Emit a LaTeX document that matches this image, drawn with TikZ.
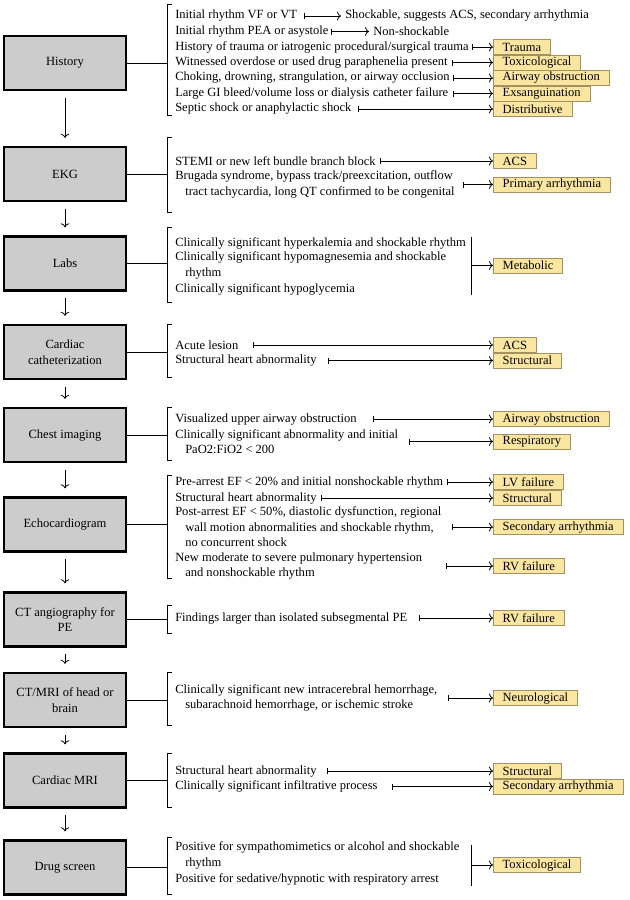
\documentclass[tikz,border=0pt]{standalone}
\usepackage{fontspec}
\setmainfont{Liberation Serif}
\usetikzlibrary{arrows.meta,positioning}
\definecolor{causefill}{RGB}{250,230,160}
\definecolor{causeline}{RGB}{165,145,95}
\newcommand{\subline}{\hspace*{7.5pt}}
\tikzset{
    test/.style={
           rectangle,
           draw=black, line width=1.8pt,
           fill=gray!40,
           minimum width=91.5pt, minimum height=40.5pt,
           align=center,
           font=\fontsize{9.4}{11.6}\selectfont,
           },
}
\tikzset{
    cause/.style={
           rectangle,
           draw=causeline, line width=0.5pt,
           fill=causefill,
           minimum height=11.4pt,
           inner xsep=7pt, inner ysep=0pt,
           anchor=west,
           font=\fontsize{9.4}{11.6}\selectfont,
           },
}
\tikzset{
    finding/.style={
           anchor=west,
           inner sep=0pt,
           align=left,
           font=\fontsize{9.4}{11.6}\selectfont,
           },
}
\tikzset{
    link/.style={line width=0.6pt},
    ruleto/.style={line width=0.6pt, {Bar[width=4.5pt]}-{To[length=3pt,width=6.5pt]}},
    pointto/.style={line width=0.6pt, -{To[length=3pt,width=6.5pt]}},
}

\begin{document}
\begin{tikzpicture}[x=0.75pt,y=-0.75pt]
\useasboundingbox (0,0) rectangle (630,900);

\node[test](hist) at (65,63){History};
\node[test](ekg) at (65,174){EKG};
\node[test](labs) at (65,263.5){Labs};
\node[test](cath) at (65,352){Cardiac\\catheterization};
\node[test](chest) at (65,435){Chest imaging};
\node[test](echo) at (65,524.5){Echocardiogram};
\node[test](cta) at (65,619.5){CT angiography for\\PE};
\node[test](ctmri) at (65,700){CT/MRI of head or\\brain};
\node[test](mri) at (65,780.5){Cardiac MRI};
\node[test](drug) at (65,867.5){Drug screen};

\draw[pointto, shorten <=5pt, shorten >=6pt] (hist) -- (ekg);
\draw[pointto, shorten <=5pt, shorten >=6pt] (ekg) -- (labs);
\draw[pointto, shorten <=5pt, shorten >=6pt] (labs) -- (cath);
\draw[pointto, shorten <=5pt, shorten >=6pt] (cath) -- (chest);
\draw[pointto, shorten <=5pt, shorten >=6pt] (chest) -- (echo);
\draw[pointto, shorten <=5pt, shorten >=6pt] (echo) -- (cta);
\draw[pointto, shorten <=5pt, shorten >=6pt] (cta) -- (ctmri);
\draw[pointto, shorten <=5pt, shorten >=6pt] (ctmri) -- (mri);
\draw[pointto, shorten <=5pt, shorten >=6pt] (mri) -- (drug);

\coordinate (histb) at (167,63);
\coordinate (ekgb) at (167,174);
\coordinate (labsb) at (167,263.5);
\coordinate (cathb) at (167,352);
\coordinate (chestb) at (167,435);
\coordinate (echob) at (167,524.5);
\coordinate (ctab) at (167,619.5);
\coordinate (ctmrib) at (167,700);
\coordinate (mrib) at (167,780.5);
\coordinate (drugb) at (167,867.5);
\draw[link] (hist) -- (histb);
\draw[link] (ekg) -- (ekgb);
\draw[link] (labs) -- (labsb);
\draw[link] (cath) -- (cathb);
\draw[link] (chest) -- (chestb);
\draw[link] (echo) -- (echob);
\draw[link] (cta) -- (ctab);
\draw[link] (ctmri) -- (ctmrib);
\draw[link] (mri) -- (mrib);
\draw[link] (drug) -- (drugb);

\draw[link] (172,4) -- (167,4) -- (167,115) -- (172,115);
\draw[link] (172,137) -- (167,137) -- (167,212) -- (172,212);
\draw[link] (172,227) -- (167,227) -- (167,302) -- (172,302);
\draw[link] (172,324) -- (167,324) -- (167,377) -- (172,377);
\draw[link] (172,407) -- (167,407) -- (167,460) -- (172,460);
\draw[link] (172,475) -- (167,475) -- (167,578) -- (172,578);
\draw[link] (172,605) -- (167,605) -- (167,633) -- (172,633);
\draw[link] (172,672) -- (167,672) -- (167,725) -- (172,725);
\draw[link] (172,753) -- (167,753) -- (167,807) -- (172,807);
\draw[link] (172,837) -- (167,837) -- (167,894) -- (172,894);

\node[finding](h1) at (175,16){Initial rhythm VF or VT};
\node[finding](h1r) at (345,16){Shockable, suggests ACS, secondary arrhythmia};
\node[finding](h2) at (175,31.5){Initial rhythm PEA or asystole};
\node[finding](h2r) at (373,31.5){Non-shockable};
\node[finding](h3) at (175,47){History of trauma or iatrogenic procedural/surgical trauma};
\node[finding](h4) at (175,62.5){Witnessed overdose or used drug paraphenelia present};
\node[finding](h5) at (175,78){Choking, drowning, strangulation, or airway occlusion};
\node[finding](h6) at (175,93.5){Large GI bleed/volume loss or dialysis catheter failure};
\node[finding](h7) at (175,109){Septic shock or anaphylactic shock};
\node[cause](hc3) at (493,47){Trauma};
\node[cause](hc4) at (493,62.5){Toxicological};
\node[cause](hc5) at (493,78){Airway obstruction};
\node[cause](hc6) at (493,93.5){Exsanguination};
\node[cause](hc7) at (493,109){Distributive};
\draw[ruleto] ([xshift=5pt]h1.east) -- ([xshift=-3pt]h1r.west);
\draw[ruleto] ([xshift=1.5pt]h2.east) -- ([xshift=-3pt]h2r.west);
\draw[ruleto] ([xshift=2.5pt]h3.east) -- (hc3.west);
\draw[ruleto] ([xshift=3pt]h4.east) -- (hc4.west);
\draw[ruleto] ([xshift=2.5pt]h5.east) -- (hc5.west);
\draw[ruleto] ([xshift=3pt]h6.east) -- (hc6.west);
\draw[ruleto] ([xshift=4.5pt]h7.east) -- (hc7.west);

\node[finding](e1) at (175,161){STEMI or new left bundle branch block};
\node[finding](e2) at (175,184.5){Brugada syndrome, bypass track/preexcitation, outflow\\\subline tract tachycardia, long QT confirmed to be congenital};
\node[cause](ec1) at (493,161){ACS};
\node[cause](ec2) at (493,184.5){Primary arrhythmia};
\draw[ruleto] ([xshift=3pt]e1.east) -- (ec1.west);
\draw[ruleto] ([xshift=6pt]e2.east) -- (ec2.west);

\node[finding](l1) at (175,243){Clinically significant hyperkalemia and shockable rhythm};
\node[finding](l2) at (175,265.5){Clinically significant hypomagnesemia and shockable\\\subline rhythm};
\node[finding](l3) at (175,289){Clinically significant hypoglycemia};
\node[cause](lc) at (493,265.5){Metabolic};
\coordinate (labstop) at (471,237);
\coordinate (labsbot) at (471,295);
\coordinate (labsbar) at (471,265.5);
\draw[link] (labstop) -- (labsbot);
\draw[pointto] (labsbar) -- (lc.west);

\node[finding](c1) at (175,345){Acute lesion};
\node[finding](c2) at (175,360.5){Structural heart abnormality};
\node[cause](cc1) at (493,345){ACS};
\node[cause](cc2) at (493,360.5){Structural};
\draw[ruleto] ([xshift=10.5pt]c1.east) -- (cc1.west);
\draw[ruleto] ([xshift=8pt]c2.east) -- (cc2.west);

\node[finding](ch1) at (175,419){Visualized upper airway obstruction};
\node[finding](ch2) at (175,441.5){Clinically significant abnormality and initial\\\subline PaO2:FiO2 {\textless} 200};
\node[cause](chc1) at (493,419){Airway obstruction};
\node[cause](chc2) at (493,441.5){Respiratory};
\draw[ruleto] ([xshift=12pt]ch1.east) -- (chc1.west);
\draw[ruleto] ([xshift=8pt]ch2.east) -- (chc2.west);

\node[finding](ec1) at (175,482){Pre-arrest EF {\textless} 20\% and initial nonshockable rhythm};
\node[finding](ec2) at (175,498){Structural heart abnormality};
\node[finding](ec3) at (175,527){Post-arrest EF {\textless} 50\%, diastolic dysfunction, regional\\\subline wall motion abnormalities and shockable rhythm,\\\subline no concurrent shock};
\node[finding](ec4) at (175,566){New moderate to severe pulmonary hypertension\\\subline and nonshockable rhythm};
\node[cause](ecc1) at (493,482){LV failure};
\node[cause](ecc2) at (493,498){Structural};
\node[cause](ecc3) at (493,527){Secondary arrhythmia};
\node[cause](ecc4) at (493,566){RV failure};
\draw[ruleto] ([xshift=3pt]ec1.east) -- (ecc1.west);
\draw[ruleto] ([xshift=3pt]ec2.east) -- (ecc2.west);
\draw[ruleto] ([xshift=7.5pt]ec3.east) -- (ecc3.west);
\draw[ruleto] ([xshift=18pt]ec4.east) -- (ecc4.west);

\node[finding](ct1) at (175,618){Findings larger than isolated subsegmental PE};
\node[cause](ctc1) at (493,618){RV failure};
\draw[ruleto] ([xshift=9pt]ct1.east) -- (ctc1.west);

\node[finding](cm1) at (175,698){Clinically significant new intracerebral hemorrhage,\\\subline subarachnoid hemorrhage, or ischemic stroke};
\node[cause](cmc1) at (493,698){Neurological};
\draw[ruleto] ([xshift=7.5pt]cm1.east) -- (cmc1.west);

\node[finding](m1) at (175,771){Structural heart abnormality};
\node[finding](m2) at (175,786.5){Clinically significant infiltrative process};
\node[cause](mc1) at (493,771){Structural};
\node[cause](mc2) at (493,786.5){Secondary arrhythmia};
\draw[ruleto] ([xshift=7.5pt]m1.east) -- (mc1.west);
\draw[ruleto] ([xshift=11pt]m2.east) -- (mc2.west);

\node[finding](d1) at (175,855.5){Positive for sympathomimetics or alcohol and shockable\\\subline rhythm};
\node[finding](d2) at (175,879){Positive for sedative/hypnotic with respiratory arrest};
\node[cause](dc) at (493,865){Toxicological};
\coordinate (drugtop) at (471,845);
\coordinate (drugbot) at (471,886);
\coordinate (drugbar) at (471,865);
\draw[link] (drugtop) -- (drugbot);
\draw[pointto] (drugbar) -- (dc.west);
\end{tikzpicture}
\end{document}
